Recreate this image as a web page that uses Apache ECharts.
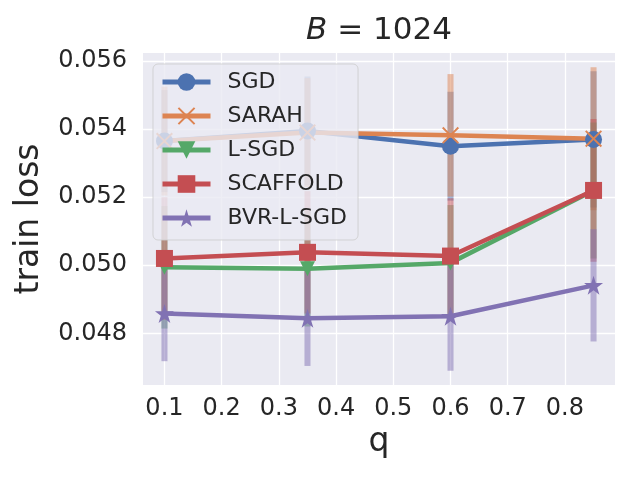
<!DOCTYPE html>
<html>
<head>
<meta charset="utf-8">
<script src="https://cdn.jsdelivr.net/npm/echarts@6/dist/echarts.min.js"></script>
<style>
html, body { margin: 0; padding: 0; background: #fff; }
#chart { width: 640px; height: 480px; }
</style>
</head>
<body>
<div id="chart"></div>
<script>
var qValues = [0.1, 0.35, 0.6, 0.85];
var xTicks = [0.1, 0.2, 0.3, 0.4, 0.5, 0.6, 0.7, 0.8];
var yTicks = [0.048, 0.050, 0.052, 0.054, 0.056];
var names = ['SGD', 'SARAH', 'L-SGD', 'SCAFFOLD', 'BVR-L-SGD'];

var sgd = [0.05365, 0.05395, 0.0535, 0.0537];
var sgdErr = [0.0015, 0.0016, 0.0016, 0.0020];
var sarah = [0.05365, 0.0539, 0.05382, 0.05372];
var sarahErr = [0.0016, 0.0016, 0.0018, 0.0021];
var lsgd = [0.04994, 0.0499, 0.05007, 0.0522];
var lsgdErr = [0.0018, 0.0017, 0.0017, 0.0020];
var scaffold = [0.0502, 0.05038, 0.05027, 0.0522];
var scaffoldErr = [0.0018, 0.0018, 0.0017, 0.0021];
var bvr = [0.04858, 0.04844, 0.0485, 0.04941];
var bvrErr = [0.0014, 0.0014, 0.0016, 0.00165];

var means = [sgd, sarah, lsgd, scaffold, bvr];
var errs = [sgdErr, sarahErr, lsgdErr, scaffoldErr, bvrErr];
var colors = ['#4C72B0', '#DD8452', '#55A868', '#C44E52', '#8172B3'];
var symbols = [
    'circle',
    'path://M0,8L8,0L50,42L92,0L100,8L58,50L100,92L92,100L50,58L8,100L0,92L42,50Z',
    'path://M0,0L100,0L50,100Z',
    'rect',
    'path://M50,0L61.23,34.55L97.55,34.55L68.17,55.9L79.39,90.45L50,69.1L20.61,90.45L31.83,55.9L2.45,34.55L38.77,34.55Z'
];
var symbolSizes = [17, 17, 15, 17, 19];

var font = 'DejaVu Sans';
var textColor = '#262626';

var chart = echarts.init(document.getElementById('chart'));

var series = [];
// error bars first, below the lines
names.forEach(function (name, i) {
    series.push({
        name: name + ' err',
        type: 'custom',
        z: 1,
        silent: true,
        data: qValues.map(function (q, j) {
            return [q, means[i][j] - errs[i][j], means[i][j] + errs[i][j]];
        }),
        renderItem: function (params, api) {
            var p1 = api.coord([api.value(0), api.value(1)]);
            var p2 = api.coord([api.value(0), api.value(2)]);
            return {
                type: 'line',
                shape: { x1: p1[0], y1: p1[1], x2: p2[0], y2: p2[1] },
                style: { stroke: colors[i], lineWidth: 6, opacity: 0.5 }
            };
        }
    });
});
names.forEach(function (name, i) {
    series.push({
        name: name,
        type: 'line',
        z: 2,
        data: qValues.map(function (q, j) { return [q, means[i][j]]; }),
        symbol: symbols[i],
        symbolSize: symbolSizes[i],
        showAllSymbol: true,
        lineStyle: { width: 4.5, color: colors[i] },
        itemStyle: { color: colors[i], opacity: 1 }
    });
});

option = {
    animation: false,
    color: colors,
    grid: {
        left: 143, right: 25, top: 53, bottom: 95,
        containLabel: false,
        show: true,
        backgroundColor: '#EAEAF2',
        borderWidth: 0
    },
    graphic: [{
        type: 'text',
        x: 379,
        y: 31,
        style: {
            text: '{i|B} = 1024',
            rich: { i: { fontStyle: 'italic', fontFamily: font, fontSize: 31, fill: textColor } },
            fontFamily: font,
            fontSize: 31,
            fill: textColor,
            align: 'center',
            verticalAlign: 'middle'
        }
    }],
    legend: {
        data: names,
        orient: 'vertical',
        left: 153,
        top: 64,
        padding: [7, 11, 11, 7],
        itemWidth: 48,
        itemHeight: 22,
        itemGap: 12,
        lineStyle: { width: 5 },
        backgroundColor: 'rgba(234,234,242,0.8)',
        borderColor: 'rgba(204,204,204,0.8)',
        borderWidth: 1,
        borderRadius: 5,
        textStyle: {
            fontFamily: font,
            fontSize: 22,
            lineHeight: 22,
            color: textColor,
            padding: [0, 0, 0, 12]
        }
    },
    xAxis: {
        type: 'value',
        min: 0.0625,
        max: 0.8875,
        name: 'q',
        nameLocation: 'middle',
        nameGap: 41,
        nameTextStyle: { fontFamily: font, fontSize: 33, color: textColor },
        axisLine: { show: false },
        axisTick: { show: false, customValues: xTicks },
        axisLabel: {
            customValues: xTicks,
            margin: 12,
            fontFamily: font,
            fontSize: 24,
            color: textColor,
            formatter: function (v) { return v.toFixed(1); }
        },
        splitLine: { show: true, lineStyle: { color: '#ffffff', width: 1.3 } }
    },
    yAxis: {
        type: 'value',
        min: 0.04648,
        max: 0.05624,
        name: 'train loss',
        nameLocation: 'middle',
        nameGap: 97,
        nameTextStyle: { fontFamily: font, fontSize: 33, color: textColor },
        axisLine: { show: false },
        axisTick: { show: false, customValues: yTicks },
        axisLabel: {
            customValues: yTicks,
            margin: 16,
            fontFamily: font,
            fontSize: 24,
            color: textColor,
            formatter: function (v) { return v.toFixed(3); }
        },
        splitLine: { show: true, lineStyle: { color: '#ffffff', width: 1.3 } }
    },
    series: series
};
chart.setOption(option);
</script>
</body>
</html>
